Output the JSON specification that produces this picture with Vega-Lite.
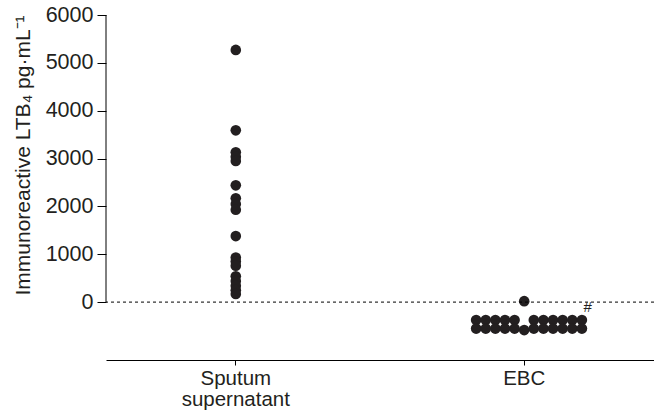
{
  "$schema": "https://vega.github.io/schema/vega-lite/v6.json",
  "width": 548,
  "height": 345,
  "autosize": {"type": "none"},
  "padding": {"left": 106, "top": 15, "right": 0, "bottom": 55},
  "background": "white",
  "config": {
    "view": {"stroke": null},
    "font": "Liberation Sans",
    "axis": {"domainColor": "black", "tickColor": "black", "labelColor": "#231f20", "titleColor": "#231f20", "grid": false}
  },
  "datasets": {
    "points": [
      {"group": "Sputum supernatant", "value": 5270, "slot": 0},
      {"group": "Sputum supernatant", "value": 3590, "slot": 0},
      {"group": "Sputum supernatant", "value": 3130, "slot": 0},
      {"group": "Sputum supernatant", "value": 3040, "slot": 0},
      {"group": "Sputum supernatant", "value": 2950, "slot": 0},
      {"group": "Sputum supernatant", "value": 2440, "slot": 0},
      {"group": "Sputum supernatant", "value": 2170, "slot": 0},
      {"group": "Sputum supernatant", "value": 2050, "slot": 0},
      {"group": "Sputum supernatant", "value": 1930, "slot": 0},
      {"group": "Sputum supernatant", "value": 1380, "slot": 0},
      {"group": "Sputum supernatant", "value": 930, "slot": 0},
      {"group": "Sputum supernatant", "value": 850, "slot": 0},
      {"group": "Sputum supernatant", "value": 760, "slot": 0},
      {"group": "Sputum supernatant", "value": 540, "slot": 0},
      {"group": "Sputum supernatant", "value": 440, "slot": 0},
      {"group": "Sputum supernatant", "value": 340, "slot": 0},
      {"group": "Sputum supernatant", "value": 250, "slot": 0},
      {"group": "Sputum supernatant", "value": 170, "slot": 0},
      {"group": "EBC", "value": 20, "slot": 0},
      {"group": "EBC", "value": -376, "slot": -5},
      {"group": "EBC", "value": -376, "slot": -4},
      {"group": "EBC", "value": -376, "slot": -3},
      {"group": "EBC", "value": -376, "slot": -2},
      {"group": "EBC", "value": -376, "slot": -1},
      {"group": "EBC", "value": -376, "slot": 1},
      {"group": "EBC", "value": -376, "slot": 2},
      {"group": "EBC", "value": -376, "slot": 3},
      {"group": "EBC", "value": -376, "slot": 4},
      {"group": "EBC", "value": -376, "slot": 5},
      {"group": "EBC", "value": -376, "slot": 6},
      {"group": "EBC", "value": -553, "slot": -5},
      {"group": "EBC", "value": -553, "slot": -4},
      {"group": "EBC", "value": -553, "slot": -3},
      {"group": "EBC", "value": -553, "slot": -2},
      {"group": "EBC", "value": -553, "slot": -1},
      {"group": "EBC", "value": -585, "slot": 0},
      {"group": "EBC", "value": -553, "slot": 1},
      {"group": "EBC", "value": -553, "slot": 2},
      {"group": "EBC", "value": -553, "slot": 3},
      {"group": "EBC", "value": -553, "slot": 4},
      {"group": "EBC", "value": -553, "slot": 5},
      {"group": "EBC", "value": -553, "slot": 6}
    ],
    "notes": [
      {"group": "EBC", "value": -110, "slot": 6.6, "label": "#"}
    ],
    "one": [{}]
  },
  "layer": [
    {
      "data": {"name": "points"},
      "mark": {"type": "circle", "size": 113, "opacity": 1, "color": "#231f20"},
      "encoding": {
        "x": {
          "field": "group",
          "type": "nominal",
          "sort": null,
          "scale": {"type": "band", "domain": ["Sputum supernatant", "EBC"], "paddingInner": 0.5, "paddingOuter": 0.2},
          "axis": {
            "title": null,
            "labelAngle": 0,
            "labelExpr": "split(datum.label, ' ')",
            "labelFontSize": 20.5,
            "labelLineHeight": 21.5,
            "labelPadding": 3,
            "tickSize": 5,
            "labelBaseline": "top"
          }
        },
        "xOffset": {"field": "slot", "type": "quantitative", "scale": {"domain": [-7.5, 7.5]}},
        "y": {
          "field": "value",
          "type": "quantitative",
          "scale": {"domain": [-1210, 6000], "nice": false, "zero": false},
          "axis": {
            "title": "Immunoreactive LTB₄ pg·mL⁻¹",
            "titleFontSize": 21,
            "titleFontWeight": "normal",
            "titlePadding": 12,
            "titleY": 140,
            "labelFontSize": 21.5,
            "labelPadding": 4,
            "tickSize": 9,
            "format": "d",
            "domain": false,
            "values": [0, 1000, 2000, 3000, 4000, 5000, 6000]
          }
        }
      }
    },
    {
      "data": {"name": "one"},
      "mark": {"type": "rule", "strokeDash": [3, 3], "strokeWidth": 1, "color": "black"},
      "encoding": {"y": {"datum": 0}}
    },
    {
      "data": {"name": "one"},
      "mark": {"type": "rule", "strokeWidth": 1, "color": "black"},
      "encoding": {"x": {"value": 0}, "y": {"datum": 0}, "y2": {"datum": 6000}}
    },
    {
      "data": {"name": "notes"},
      "mark": {"type": "text", "fontSize": 15, "color": "#231f20", "baseline": "middle", "align": "center"},
      "encoding": {
        "x": {"field": "group", "type": "nominal"},
        "xOffset": {"field": "slot", "type": "quantitative"},
        "y": {"field": "value", "type": "quantitative"},
        "text": {"field": "label"}
      }
    }
  ]
}
